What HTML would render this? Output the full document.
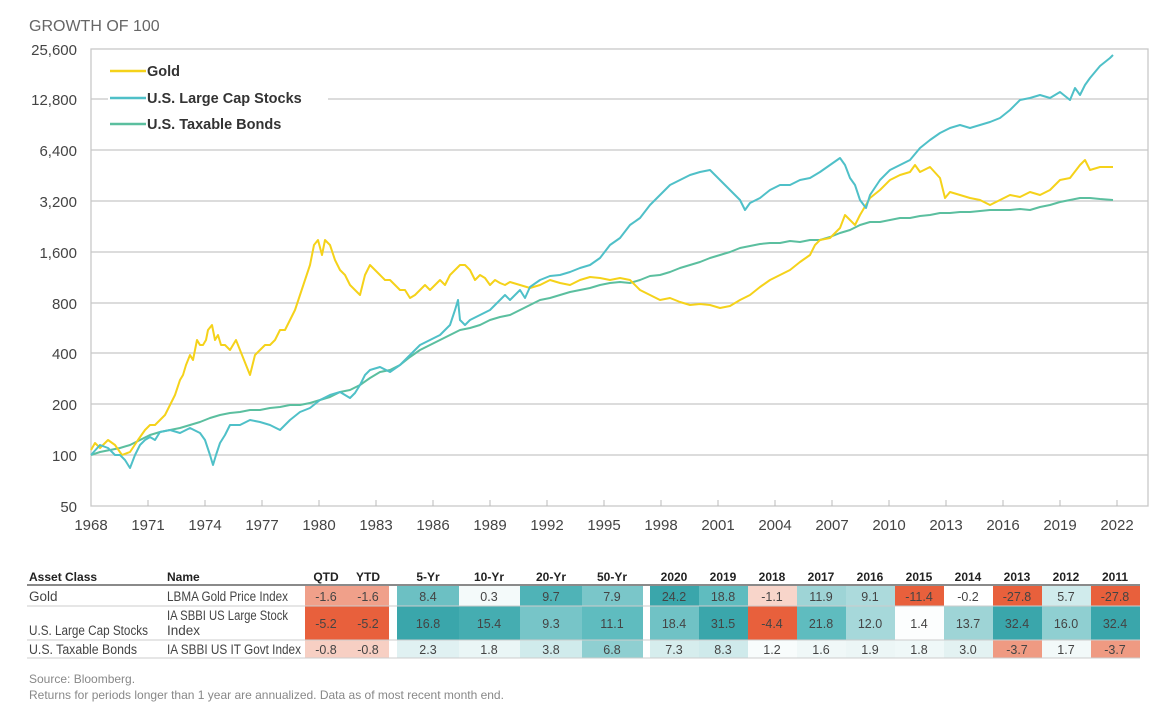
<!DOCTYPE html>
<html><head><meta charset="utf-8"><style>
body{margin:0;background:#fff;}
svg{display:block;font-family:"Liberation Sans",Arial,sans-serif;}
</style></head><body>
<svg width="1160" height="706" viewBox="0 0 1160 706" xmlns="http://www.w3.org/2000/svg">
<text x="29" y="31" font-size="16" fill="#666">GROWTH OF 100</text>
<g stroke="#c8c8c8" stroke-width="1.3">
<line x1="91" y1="99" x2="1148" y2="99"/><line x1="91" y1="150" x2="1148" y2="150"/>
<line x1="91" y1="201" x2="1148" y2="201"/><line x1="91" y1="252" x2="1148" y2="252"/>
<line x1="91" y1="303" x2="1148" y2="303"/><line x1="91" y1="353" x2="1148" y2="353"/>
<line x1="91" y1="404" x2="1148" y2="404"/><line x1="91" y1="455" x2="1148" y2="455"/>
<rect x="91" y="49" width="1057" height="457" fill="none"/>
</g>
<g stroke="#bbb" stroke-width="1">
<line x1="148" y1="506" x2="148" y2="500"/><line x1="205" y1="506" x2="205" y2="500"/><line x1="262" y1="506" x2="262" y2="500"/><line x1="319" y1="506" x2="319" y2="500"/><line x1="376" y1="506" x2="376" y2="500"/><line x1="433" y1="506" x2="433" y2="500"/><line x1="490" y1="506" x2="490" y2="500"/><line x1="547" y1="506" x2="547" y2="500"/><line x1="604" y1="506" x2="604" y2="500"/><line x1="661" y1="506" x2="661" y2="500"/><line x1="718" y1="506" x2="718" y2="500"/><line x1="775" y1="506" x2="775" y2="500"/><line x1="832" y1="506" x2="832" y2="500"/><line x1="889" y1="506" x2="889" y2="500"/><line x1="946" y1="506" x2="946" y2="500"/><line x1="1003" y1="506" x2="1003" y2="500"/><line x1="1060" y1="506" x2="1060" y2="500"/><line x1="1117" y1="506" x2="1117" y2="500"/>
</g>
<g font-size="15" fill="#444" text-anchor="end">
<text x="77" y="55">25,600</text><text x="77" y="105">12,800</text><text x="77" y="156">6,400</text><text x="77" y="207">3,200</text><text x="77" y="258">1,600</text><text x="77" y="309">800</text><text x="77" y="359">400</text><text x="77" y="410">200</text><text x="77" y="461">100</text><text x="77" y="512">50</text>
</g>
<g font-size="15" fill="#444" text-anchor="middle">
<text x="91" y="530">1968</text><text x="148" y="530">1971</text><text x="205" y="530">1974</text><text x="262" y="530">1977</text><text x="319" y="530">1980</text><text x="376" y="530">1983</text><text x="433" y="530">1986</text><text x="490" y="530">1989</text><text x="547" y="530">1992</text><text x="604" y="530">1995</text><text x="661" y="530">1998</text><text x="718" y="530">2001</text><text x="775" y="530">2004</text><text x="832" y="530">2007</text><text x="889" y="530">2010</text><text x="946" y="530">2013</text><text x="1003" y="530">2016</text><text x="1060" y="530">2019</text><text x="1117" y="530">2022</text>
</g>
<g fill="none" stroke-width="2" stroke-linejoin="round">
<polyline stroke="#5bbf9f" points="91,455 100,452 110,450 120,448 130,445 140,440 150,435 160,432 170,430 180,428 190,425 200,422 210,418 220,415 230,413 240,412 250,410 260,410 270,408 280,407 290,405 300,405 310,403 320,400 330,397 340,392 350,390 360,385 370,378 380,372 390,370 400,365 410,357 420,350 430,345 440,340 450,335 460,330 470,328 480,325 490,320 500,317 510,315 520,310 530,305 540,300 550,298 560,295 570,292 580,290 590,288 600,285 610,283 620,282 630,283 640,280 650,276 660,275 670,272 680,268 690,265 700,262 710,258 720,255 730,252 740,248 750,246 760,244 770,243 780,243 790,241 800,242 810,240 820,240 830,237 840,233 850,230 860,225 870,222 880,222 890,220 900,218 910,218 920,216 930,215 940,213 950,213 960,212 970,212 980,211 990,210 1000,210 1010,210 1020,209 1030,210 1040,207 1050,205 1060,202 1070,200 1080,198 1090,198 1100,199 1113,200"/>
<polyline stroke="#f5d21a" points="91,450 95,443 100,448 108,440 115,445 122,455 130,452 138,440 145,430 150,425 155,425 160,420 165,415 170,405 175,395 180,380 183,375 186,365 190,355 193,360 197,340 200,345 203,345 206,340 208,330 212,325 215,340 218,335 221,345 225,345 230,350 236,340 242,355 246,365 250,375 255,355 260,350 265,345 270,345 275,340 280,330 285,330 290,320 295,310 300,295 305,280 310,265 314,245 318,240 322,255 325,240 330,245 335,260 340,270 345,275 350,285 355,290 360,295 365,275 370,265 375,270 380,275 385,280 390,280 395,285 400,290 405,290 410,298 415,295 420,290 425,285 430,290 435,285 440,280 445,285 450,275 455,270 460,265 465,265 470,270 475,280 480,275 485,278 490,285 495,280 500,283 505,285 510,282 520,285 530,288 540,285 550,280 560,283 570,285 580,280 590,277 600,278 610,280 620,278 630,280 640,290 650,295 660,300 670,298 680,302 690,305 700,304 710,305 720,308 730,306 740,300 750,295 760,287 770,280 780,275 790,270 800,262 810,255 815,245 820,240 830,238 840,228 845,215 850,220 855,225 860,215 870,198 880,190 890,180 900,175 910,172 915,165 920,172 930,167 940,178 945,198 950,192 960,195 970,198 980,200 990,205 1000,200 1010,195 1020,197 1030,192 1040,195 1050,190 1060,180 1070,178 1080,165 1085,160 1090,170 1100,167 1113,167"/>
<polyline stroke="#4fc0c8" points="91,455 100,445 108,448 115,455 120,455 125,460 130,468 135,455 140,445 145,440 150,437 155,440 160,432 170,430 180,433 190,428 200,433 205,440 210,455 213,465 216,455 220,443 225,435 230,425 240,425 250,420 260,422 270,425 280,430 290,420 300,412 310,408 320,400 330,395 340,392 350,398 355,393 360,385 365,375 370,370 380,367 390,372 400,365 410,355 420,345 430,340 440,335 450,325 455,310 458,300 460,320 465,325 470,320 480,315 490,310 500,300 505,295 510,300 515,295 520,290 525,298 530,287 540,280 550,276 560,275 570,272 580,268 590,265 600,258 610,245 620,238 630,225 640,218 650,205 660,195 670,185 680,180 690,175 700,172 710,170 715,175 720,180 730,190 740,200 745,210 750,203 760,198 770,190 780,185 790,185 800,180 810,178 820,172 830,165 840,158 845,165 850,178 855,185 860,200 866,208 870,195 880,180 890,170 900,165 910,160 920,148 930,140 940,133 950,128 960,125 970,128 980,125 990,122 1000,118 1010,110 1020,100 1030,98 1040,95 1050,98 1060,92 1070,100 1075,88 1080,95 1085,85 1090,78 1095,72 1100,66 1105,62 1110,58 1113,55"/>
</g>
<rect x="108" y="88" width="220" height="14" fill="#fff"/>
<g stroke-width="2.5"><line x1="110" y1="71" x2="146" y2="71" stroke="#f5d21a"/><line x1="110" y1="98" x2="146" y2="98" stroke="#4fc0c8"/><line x1="110" y1="124" x2="146" y2="124" stroke="#5bbf9f"/></g>
<g font-size="14.5" font-weight="bold" fill="#333"><text x="147" y="76">Gold</text><text x="147" y="103">U.S. Large Cap Stocks</text><text x="147" y="129">U.S. Taxable Bonds</text></g>

<g font-size="12" font-weight="bold" fill="#222">
<text x="29" y="581">Asset Class</text><text x="167" y="581">Name</text>
<g text-anchor="middle"><text x="326" y="581">QTD</text><text x="368" y="581">YTD</text>
<text x="428" y="581">5-Yr</text><text x="489" y="581">10-Yr</text><text x="551" y="581">20-Yr</text><text x="612" y="581">50-Yr</text>
<text x="674" y="581">2020</text><text x="723" y="581">2019</text><text x="772" y="581">2018</text><text x="821" y="581">2017</text><text x="870" y="581">2016</text><text x="919" y="581">2015</text><text x="968" y="581">2014</text><text x="1017" y="581">2013</text><text x="1066" y="581">2012</text><text x="1115" y="581">2011</text></g>
</g>
<line x1="27" y1="585" x2="1140" y2="585" stroke="#444" stroke-width="1.3"/>
<g>
<rect x="305" y="586" width="84" height="20" fill="#f0a08a"/>
<rect x="305" y="606" width="84" height="34" fill="#e8603c"/>
<rect x="305" y="640" width="84" height="18" fill="#f7cfc3"/>
<rect x="397" y="586" width="62" height="20" fill="#6cc0c3"/><rect x="459" y="586" width="61" height="20" fill="#f4fafa"/><rect x="520" y="586" width="62" height="20" fill="#4fb3b7"/><rect x="582" y="586" width="61" height="20" fill="#7ac6c9"/>
<rect x="397" y="606" width="62" height="34" fill="#3aa6ab"/><rect x="459" y="606" width="61" height="34" fill="#45adb1"/><rect x="520" y="606" width="62" height="34" fill="#77c5c8"/><rect x="582" y="606" width="61" height="34" fill="#5fbcbf"/>
<rect x="397" y="640" width="62" height="18" fill="#e0f1f2"/><rect x="459" y="640" width="61" height="18" fill="#eaf6f6"/><rect x="520" y="640" width="62" height="18" fill="#d0ebec"/><rect x="582" y="640" width="61" height="18" fill="#8fcfd1"/>
<rect x="650" y="586" width="49" height="20" fill="#3aa6ab"/><rect x="699" y="586" width="49" height="20" fill="#5fbcbf"/><rect x="748" y="586" width="49" height="20" fill="#f8d5ca"/><rect x="797" y="586" width="49" height="20" fill="#9ed4d6"/><rect x="846" y="586" width="49" height="20" fill="#acdadc"/><rect x="895" y="586" width="49" height="20" fill="#e8603c"/><rect x="944" y="586" width="49" height="20" fill="#ffffff"/><rect x="993" y="586" width="49" height="20" fill="#e8603c"/><rect x="1042" y="586" width="49" height="20" fill="#d0ebec"/><rect x="1091" y="586" width="49" height="20" fill="#e8603c"/>
<rect x="650" y="606" width="49" height="34" fill="#70c2c5"/><rect x="699" y="606" width="49" height="34" fill="#3aa6ab"/><rect x="748" y="606" width="49" height="34" fill="#e8603c"/><rect x="797" y="606" width="49" height="34" fill="#5fbcbf"/><rect x="846" y="606" width="49" height="34" fill="#a6d8da"/><rect x="895" y="606" width="49" height="34" fill="#fcfefe"/><rect x="944" y="606" width="49" height="34" fill="#9ed4d6"/><rect x="993" y="606" width="49" height="34" fill="#3aa6ab"/><rect x="1042" y="606" width="49" height="34" fill="#8fcfd1"/><rect x="1091" y="606" width="49" height="34" fill="#3aa6ab"/>
<rect x="650" y="640" width="49" height="18" fill="#d6eded"/><rect x="699" y="640" width="49" height="18" fill="#cfeaeb"/><rect x="748" y="640" width="49" height="18" fill="#f8fcfc"/><rect x="797" y="640" width="49" height="18" fill="#f0f8f8"/><rect x="846" y="640" width="49" height="18" fill="#ecf6f6"/><rect x="895" y="640" width="49" height="18" fill="#eff8f8"/><rect x="944" y="640" width="49" height="18" fill="#e3f2f2"/><rect x="993" y="640" width="49" height="18" fill="#ef9a82"/><rect x="1042" y="640" width="49" height="18" fill="#f2f9f9"/><rect x="1091" y="640" width="49" height="18" fill="#ef9a82"/>
</g>
<g stroke="#ccc" stroke-width="1"><line x1="27" y1="606" x2="1140" y2="606"/><line x1="27" y1="640" x2="1140" y2="640"/><line x1="27" y1="658" x2="1140" y2="658"/></g>
<g font-size="13.5" fill="#444">
<text x="29" y="601">Gold</text><text x="167" y="601" textLength="121" lengthAdjust="spacingAndGlyphs">LBMA Gold Price Index</text>
<text x="167" y="620" textLength="121" lengthAdjust="spacingAndGlyphs">IA SBBI US Large Stock</text><text x="167" y="635">Index</text><text x="29" y="635" textLength="119" lengthAdjust="spacingAndGlyphs">U.S. Large Cap Stocks</text>
<text x="29" y="654" textLength="108" lengthAdjust="spacingAndGlyphs">U.S. Taxable Bonds</text><text x="167" y="654" textLength="134" lengthAdjust="spacingAndGlyphs">IA SBBI US IT Govt Index</text>
</g>
<g font-size="12.5" fill="#444" text-anchor="middle">
<text x="326" y="601">-1.6</text><text x="368" y="601">-1.6</text><text x="428" y="601">8.4</text><text x="489" y="601">0.3</text><text x="551" y="601">9.7</text><text x="612" y="601">7.9</text>
<text x="674" y="601">24.2</text><text x="723" y="601">18.8</text><text x="772" y="601">-1.1</text><text x="821" y="601">11.9</text><text x="870" y="601">9.1</text><text x="919" y="601">-11.4</text><text x="968" y="601">-0.2</text><text x="1017" y="601">-27.8</text><text x="1066" y="601">5.7</text><text x="1115" y="601">-27.8</text>
<text x="326" y="628">-5.2</text><text x="368" y="628">-5.2</text><text x="428" y="628">16.8</text><text x="489" y="628">15.4</text><text x="551" y="628">9.3</text><text x="612" y="628">11.1</text>
<text x="674" y="628">18.4</text><text x="723" y="628">31.5</text><text x="772" y="628">-4.4</text><text x="821" y="628">21.8</text><text x="870" y="628">12.0</text><text x="919" y="628">1.4</text><text x="968" y="628">13.7</text><text x="1017" y="628">32.4</text><text x="1066" y="628">16.0</text><text x="1115" y="628">32.4</text>
<text x="326" y="654">-0.8</text><text x="368" y="654">-0.8</text><text x="428" y="654">2.3</text><text x="489" y="654">1.8</text><text x="551" y="654">3.8</text><text x="612" y="654">6.8</text>
<text x="674" y="654">7.3</text><text x="723" y="654">8.3</text><text x="772" y="654">1.2</text><text x="821" y="654">1.6</text><text x="870" y="654">1.9</text><text x="919" y="654">1.8</text><text x="968" y="654">3.0</text><text x="1017" y="654">-3.7</text><text x="1066" y="654">1.7</text><text x="1115" y="654">-3.7</text>
</g>
<g font-size="12" fill="#888"><text x="29" y="683">Source: Bloomberg.</text><text x="29" y="699">Returns for periods longer than 1 year are annualized. Data as of most recent month end.</text></g>
</svg>
</body></html>
